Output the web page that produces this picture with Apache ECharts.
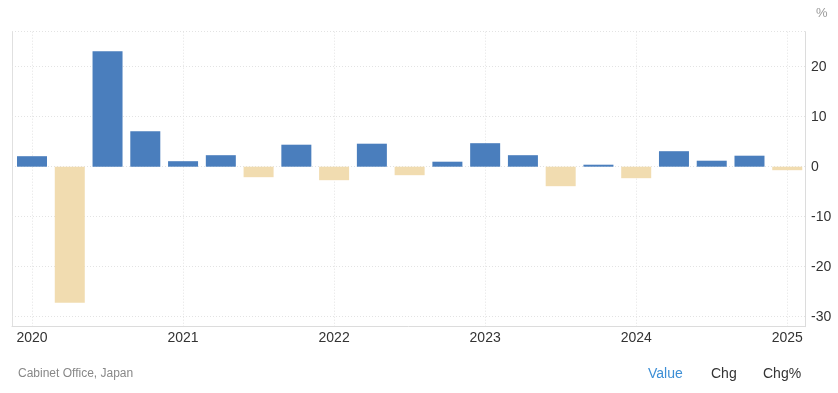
<!DOCTYPE html>
<html>
<head>
<meta charset="utf-8">
<script src="https://cdn.jsdelivr.net/npm/echarts@6/dist/echarts.min.js"></script>
<style>
html,body{margin:0;padding:0;background:#fff;}
#c{width:838px;height:393px;}
</style>
</head>
<body>
<div id="c"></div>
<script>
const quarters = ['2020Q1','2020Q2','2020Q3','2020Q4','2021Q1','2021Q2','2021Q3','2021Q4','2022Q1','2022Q2','2022Q3','2022Q4','2023Q1','2023Q2','2023Q3','2023Q4','2024Q1','2024Q2','2024Q3','2024Q4','2025Q1'];
const values = [2.1,-27.2,23.1,7.1,1.1,2.3,-2.1,4.4,-2.7,4.6,-1.7,1.0,4.7,2.3,-3.9,0.4,-2.3,3.1,1.2,2.2,-0.7];
const yTicks = [-30,-20,-10,0,10,20];
const yearLabels = ['2020','2021','2022','2023','2024','2025'];
const yearIdx = [0,4,8,12,16,20];

const POS = '#4a7ebd', NEG = '#f1dcb0';
const data = values.map((v,i)=>({value:[i,v], itemStyle:{color: v>=0?POS:NEG}}));

const FONT = 'Liberation Sans, Arial, sans-serif';
const chart = echarts.init(document.getElementById('c'), null, {renderer:'canvas'});
chart.setOption({
  animation:false,
  backgroundColor:'#fff',
  textStyle:{fontFamily:FONT},
  grid:{left:12, right:33, top:31.7, bottom:66.3, containLabel:false},
  xAxis:{
    type:'value', min:-0.53, max:20.47,
    axisLine:{show:true, onZero:false, lineStyle:{color:'#dcdcdc', width:1}},
    axisTick:{show:false, customValues:yearIdx},
    axisLabel:{customValues:yearIdx, color:'#333', fontSize:14, margin:4,
      formatter:(v)=>yearLabels[yearIdx.indexOf(Math.round(v))] || ''},
    splitLine:{show:true, lineStyle:{color:'#e3e3e3', type:[1,2], width:1}}
  },
  yAxis:{
    type:'value', position:'right', min:-32, max:27,
    axisLine:{show:true, onZero:false, lineStyle:{color:'#dcdcdc', width:1}},
    axisTick:{show:false, customValues:[-30,-20,-10,0,10,20,27]},
    axisLabel:{customValues:yTicks, color:'#333', fontSize:14, margin:6},
    splitLine:{show:true, lineStyle:{color:'#e3e3e3', type:[1,2], width:1}}
  },
  series:[{
    type:'bar', data:data, barWidth:30
  }],
  graphic:[
    {type:'line', shape:{x1:12.5,y1:31.7,x2:12.5,y2:326.7}, style:{stroke:'#e0e0e0', lineWidth:1}, silent:true},
    {type:'text', left:816, top:7, style:{text:'%', fill:'#999', fontSize:13, fontFamily:FONT}},
    {type:'text', left:18, top:368, style:{text:'Cabinet Office, Japan', fill:'#888', fontSize:12, fontFamily:FONT}},
    {type:'text', left:648, top:367, style:{text:'Value', fill:'#3d8fd6', fontSize:14, fontFamily:FONT}},
    {type:'text', left:711, top:367, style:{text:'Chg', fill:'#333', fontSize:14, fontFamily:FONT}},
    {type:'text', left:763, top:367, style:{text:'Chg%', fill:'#333', fontSize:14, fontFamily:FONT}}
  ]
});
</script>
</body>
</html>
